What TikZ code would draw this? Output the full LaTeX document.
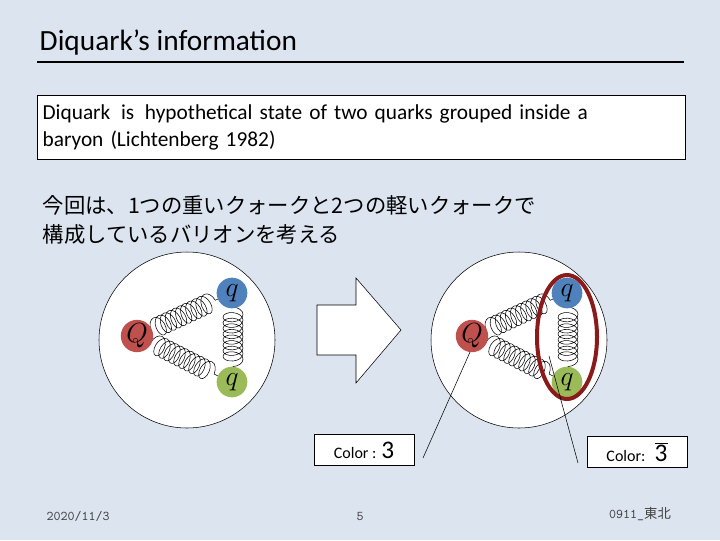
\documentclass[tikz,border=0pt]{standalone}
\usepackage{fontspec}
\setmainfont{Carlito}
\newfontfamily\jp{Noto Sans CJK JP}
\usetikzlibrary{decorations.pathmorphing,calc}
\definecolor{bg}{HTML}{DCE4F0}
\definecolor{qred}{HTML}{C0504D}
\definecolor{qblue}{HTML}{4F81BD}
\definecolor{qgreen}{HTML}{9BBB59}
\definecolor{dred}{HTML}{8B1A1A}
\begin{document}
\begin{tikzpicture}[x=0.75pt,y=-0.75pt,
 quark/.style={circle,minimum size=23pt,inner sep=0pt,font=\fontsize{20}{20}\selectfont\itshape\rmfamily},
 glue/.style={decorate,decoration={coil,aspect=0.6,segment length=4.2pt,amplitude=7.5pt}},
 colbox/.style={draw,fill=white,minimum width=75pt,minimum height=23pt,inner sep=3pt,font=\fontsize{12}{13}\selectfont,align=right},
 foot/.style={font=\fontsize{10}{12}\selectfont\ttfamily,text=black!75}]
\fill[bg] (0,0) rectangle (720,540);
\useasboundingbox (0,0) rectangle (720,540);
\node[anchor=west,font=\fontsize{22}{24}\selectfont] (title) at (35,43) {Diquark’s information};
\draw[line width=1.6pt] (37,62) -- (684,62);
\node[draw,fill=white,anchor=north west,minimum width=486pt,minimum height=48pt,text width=478pt,align=left,inner sep=4pt,font=\fontsize{16}{20}\selectfont] (def) at (37,95) {Diquark\, is\, hypothetical state of two quarks grouped inside a\\ baryon (Lichtenberg 1982)};
\node[anchor=north west,align=left,font=\jp\fontsize{16}{21.5}\selectfont] (jtext) at (38,191) {今回は、1つの重いクォークと2つの軽いクォークで\\構成しているバリオンを考える};
% left baryon
\node[draw,fill=white,circle,minimum size=132pt] (B1) at (187,340) {};
\coordinate (Q1) at (137,336); \coordinate (a1) at (232,293); \coordinate (b1) at (232,382);
\draw[glue] ($(Q1)+(14,-6)$) -- ($(a1)+(-14,6)$);
\draw[glue] ($(Q1)+(14,6)$) -- ($(b1)+(-14,-6)$);
\draw[glue] ($(a1)+(1,14)$) -- ($(b1)+(1,-14)$);
\node[quark,fill=qred] (nQ1) at (Q1) {$Q$};
\node[quark,fill=qblue] (na1) at (a1) {$q$};
\node[quark,fill=qgreen] (nb1) at (b1) {$q$};
% arrow
\draw[fill=white] (317,305) -- (356,305) -- (356,278) -- (401,330) -- (356,383) -- (356,355) -- (317,355) -- cycle;
% right baryon
\node[draw,fill=white,circle,minimum size=132pt] (B2) at (519,340) {};
\coordinate (Q2) at (472,336); \coordinate (a2) at (567,293); \coordinate (b2) at (567,382);
\draw[glue] ($(Q2)+(14,-6)$) -- ($(a2)+(-14,6)$);
\draw[glue] ($(Q2)+(14,6)$) -- ($(b2)+(-14,-6)$);
\draw[glue] ($(a2)+(1,14)$) -- ($(b2)+(1,-14)$);
\node[quark,fill=qred] (nQ2) at (Q2) {$Q$};
\node[quark,fill=qblue] (na2) at (a2) {$q$};
\node[quark,fill=qgreen] (nb2) at (b2) {$q$};
\draw[dred,line width=3pt] (567,337) ellipse (30 and 62);
\coordinate (p1) at (470,352);
\coordinate (p2) at (549,356);
% color boxes
\node[colbox] (c1) at (364,450) {Color : {\fontsize{19}{17}\selectfont 3}};
\node[colbox] (c2) at (637,452) {Color:\; {\fontsize{19}{17}\selectfont $\overline{\mbox{3}}$}};
\draw (p1) -- (423,458);
\draw (p2) -- (578,463);
% footer
\node[foot] (f1) at (78,516) {2020/11/3};
\node[foot] (f2) at (360,516) {5};
\node[foot] (f3) at (640,514) {0911\_{\jp 東北}};
\end{tikzpicture}
\end{document}
